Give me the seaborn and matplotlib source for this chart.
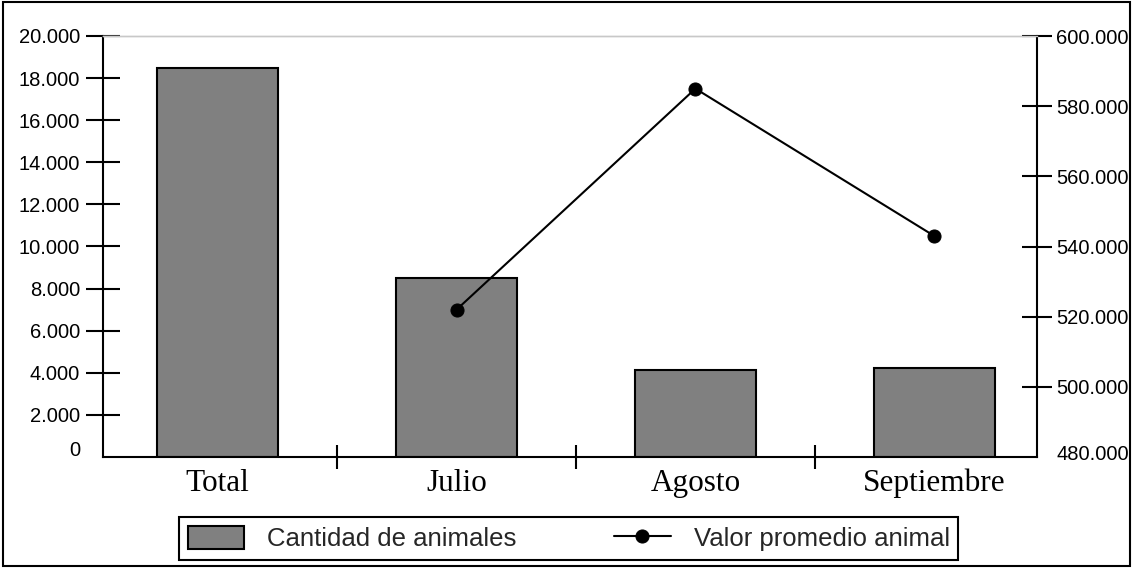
import matplotlib
matplotlib.use("Agg")
import matplotlib.pyplot as plt
import matplotlib.ticker as mticker
from matplotlib.patches import Rectangle
from matplotlib.transforms import ScaledTranslation
import seaborn as sns

# data
categorias = ["Total", "Julio", "Agosto", "Septiembre"]
cantidad_animales = [18500, 8500, 4150, 4250]
meses_linea = ["Julio", "Agosto", "Septiembre"]
valor_promedio = [522000, 585000, 543000]
ticks_izq = list(range(0, 20001, 2000))
ticks_der = list(range(480000, 600001, 20000))

sns.set_theme(style="white")
plt.rcParams["font.family"] = ["Liberation Sans", "DejaVu Sans"]


def miles(v, pos=None):
    return f"{int(round(v)):,}".replace(",", ".")


fig = plt.figure(figsize=(11.33, 5.68), dpi=100)
ax = fig.add_axes([103 / 1133, 1 - 457 / 568, 934 / 1133, 421 / 568])

# bars: cantidad de animales
sns.barplot(x=categorias, y=cantidad_animales, color="#808080", saturation=1,
            edgecolor="black", linewidth=1.5, width=0.507, ax=ax)

# line: valor promedio animal (right axis)
ax2 = ax.twinx()
x_linea = [categorias.index(m) for m in meses_linea]
sns.lineplot(x=x_linea, y=valor_promedio, color="black", lw=1.5, marker="o",
             markersize=9.4, markeredgecolor="black", ax=ax2, legend=False)

ax.set_xlim(-0.48, 3.43)
ax.set_ylim(0, 20000)
ax2.set_ylim(480000, 600000)
ax.set_xlabel("")
ax.set_ylabel("")
ax2.set_ylabel("")

# spines
for a in (ax, ax2):
    for s in a.spines.values():
        s.set_color("black")
        s.set_linewidth(1.5)
    a.spines["top"].set_color("#c8c8c8")
    a.spines["top"].set_linewidth(1.0)
ax.spines["right"].set_visible(False)
ax2.spines["left"].set_visible(False)
ax2.spines["bottom"].set_visible(False)

# left axis ticks
ax.yaxis.set_major_locator(mticker.FixedLocator(ticks_izq))
ax.yaxis.set_major_formatter(mticker.FuncFormatter(miles))
ax.tick_params(axis="y", which="major", direction="inout", length=23.8, width=1.5,
               pad=4.7, labelsize=14.5, colors="black", left=True)

# right axis ticks
ax2.yaxis.set_major_locator(mticker.FixedLocator(ticks_der))
ax2.yaxis.set_major_formatter(mticker.FuncFormatter(miles))
ax2.tick_params(axis="y", which="major", direction="inout", length=21.6, width=1.5,
                pad=2.9, labelsize=14.5, colors="black", right=True)

# x axis: labels at categories, separators between them
ax.xaxis.set_major_locator(mticker.FixedLocator(range(len(categorias))))
ax.set_xticklabels(categorias, fontfamily="Liberation Serif", fontsize=22.5)
ax.xaxis.set_minor_locator(mticker.FixedLocator([i + 0.5 for i in range(len(categorias) - 1)]))
ax.tick_params(axis="x", which="major", length=0, pad=8.5, colors="black")
ax.tick_params(axis="x", which="minor", direction="inout", length=17, width=1.5,
               bottom=True, color="black")

# hide the zero ticks and nudge their labels up
fig.canvas.draw()
ax.yaxis.get_major_ticks()[0].tick1line.set_visible(False)
ax2.yaxis.get_major_ticks()[0].tick2line.set_visible(False)
lab0 = ax.yaxis.get_major_ticks()[0].label1
lab0.set_transform(lab0.get_transform() + ScaledTranslation(0, 9 / 100, fig.dpi_scale_trans))
lab1 = ax2.yaxis.get_major_ticks()[0].label2
lab1.set_transform(lab1.get_transform() + ScaledTranslation(0, 4 / 100, fig.dpi_scale_trans))

# legend
handles = [ax.containers[0].patches[0], ax2.lines[0]]
leg = fig.legend(handles, ["Cantidad de animales", "Valor promedio animal"],
                 loc="center", bbox_to_anchor=(0.502, 0.052), ncol=2,
                 fontsize=18.5, frameon=True, fancybox=False, framealpha=1,
                 edgecolor="black", borderpad=0.33, handlelength=2.2,
                 handleheight=1.0, handletextpad=0.9, columnspacing=3.8)
leg.get_frame().set_linewidth(1.5)

# outer frame of the picture
fig.add_artist(Rectangle((3 / 1133, 2 / 568), 1127 / 1133, 564 / 568,
                         transform=fig.transFigure, fill=False,
                         edgecolor="black", linewidth=1.5))

fig.savefig("out.png", dpi=100)
